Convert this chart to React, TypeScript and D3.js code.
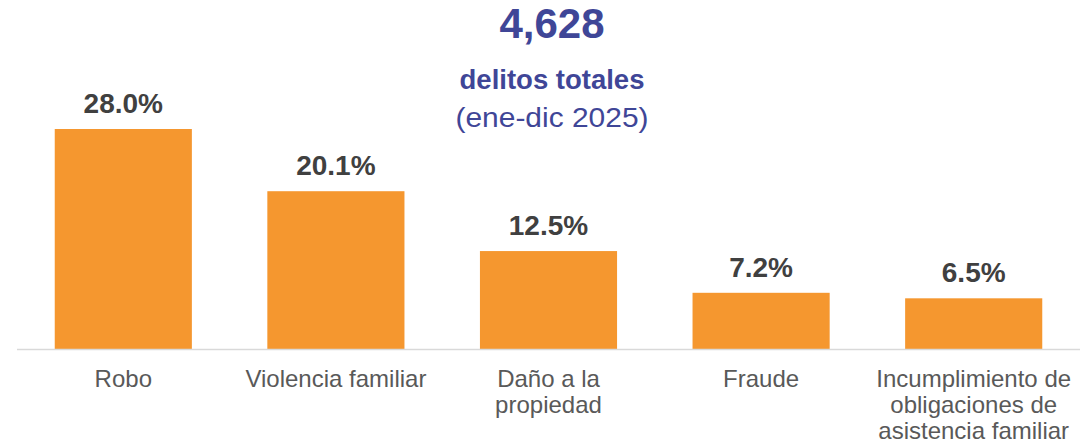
import React from "react";
import * as d3 from "d3";

// Crime categories and their share of the yearly total (%)
const categories: string[] = [
  "Robo",
  "Violencia familiar",
  "Daño a la propiedad",
  "Fraude",
  "Incumplimiento de obligaciones de asistencia familiar",
];
const shares: number[] = [28.0, 20.1, 12.5, 7.2, 6.5];

const totalCrimes = 4628;
const subtitle = "delitos totales";
const period = "(ene-dic 2025)";

const WIDTH = 1085;
const HEIGHT = 443;
const FONT = "'Liberation Sans', Arial, Helvetica, sans-serif";
const BAR_COLOR = "#F5972F";
const TITLE_COLOR = "#3F4697";
const VALUE_COLOR = "#404040";
const LABEL_COLOR = "#595959";

// Greedy word wrap using canvas text metrics
function wrapText(text: string, maxWidth: number, font: string): string[] {
  const canvas = document.createElement("canvas");
  const ctx = canvas.getContext("2d");
  if (!ctx) return [text];
  ctx.font = font;
  const words = text.split(" ");
  const lines: string[] = [];
  let current = "";
  for (const w of words) {
    const trial = current ? current + " " + w : w;
    if (ctx.measureText(trial).width > maxWidth && current) {
      lines.push(current);
      current = w;
    } else {
      current = trial;
    }
  }
  if (current) lines.push(current);
  return lines;
}

export default function App() {
  const baseline = 349.5;
  const x = d3
    .scaleBand<string>()
    .domain(categories)
    .range([17, 1080])
    .paddingInner(0.355)
    .paddingOuter(0.1775);
  const y = d3.scaleLinear().domain([0, 28]).range([baseline, 129]);

  const labelFont = `24px ${FONT}`;
  const centerX = 552;

  return (
    <svg
      width={WIDTH}
      height={HEIGHT}
      style={{ position: "absolute", left: 0, top: 0, background: "#fff" }}
      fontFamily={FONT}
    >
      {/* Headline total */}
      <text
        x={centerX}
        y={38}
        textAnchor="middle"
        fontSize={42}
        fontWeight="bold"
        fill={TITLE_COLOR}
      >
        {d3.format(",")(totalCrimes)}
      </text>
      <text
        x={centerX}
        y={89}
        textAnchor="middle"
        fontSize={27.5}
        fontWeight="bold"
        fill={TITLE_COLOR}
      >
        {subtitle}
      </text>
      <text
        x={centerX}
        y={127}
        textAnchor="middle"
        fontSize={28}
        textLength={193}
        lengthAdjust="spacingAndGlyphs"
        fill={TITLE_COLOR}
      >
        {period}
      </text>

      {/* Bars */}
      {categories.map((c, i) => (
        <rect
          key={c}
          x={x(c)}
          y={y(shares[i])}
          width={x.bandwidth()}
          height={baseline - y(shares[i])}
          fill={BAR_COLOR}
        />
      ))}

      {/* Baseline axis */}
      <line x1={17} x2={1080} y1={baseline} y2={baseline} stroke="#D9D9D9" strokeWidth={1.5} />

      {/* Value labels */}
      {categories.map((c, i) => (
        <text
          key={c + "-v"}
          x={(x(c) as number) + x.bandwidth() / 2}
          y={y(shares[i]) - 16}
          textAnchor="middle"
          fontSize={28}
          fontWeight="bold"
          fill={VALUE_COLOR}
        >
          {d3.format(".1f")(shares[i]) + "%"}
        </text>
      ))}

      {/* Category labels */}
      {categories.map((c) => {
        const lines = wrapText(c, 200, labelFont);
        const cx = (x(c) as number) + x.bandwidth() / 2;
        return (
          <text
            key={c + "-l"}
            x={cx}
            y={387}
            textAnchor="middle"
            fontSize={24}
            fill={LABEL_COLOR}
          >
            {lines.map((ln, k) => (
              <tspan key={k} x={cx} y={387 + k * 26}>
                {ln}
              </tspan>
            ))}
          </text>
        );
      })}
    </svg>
  );
}
